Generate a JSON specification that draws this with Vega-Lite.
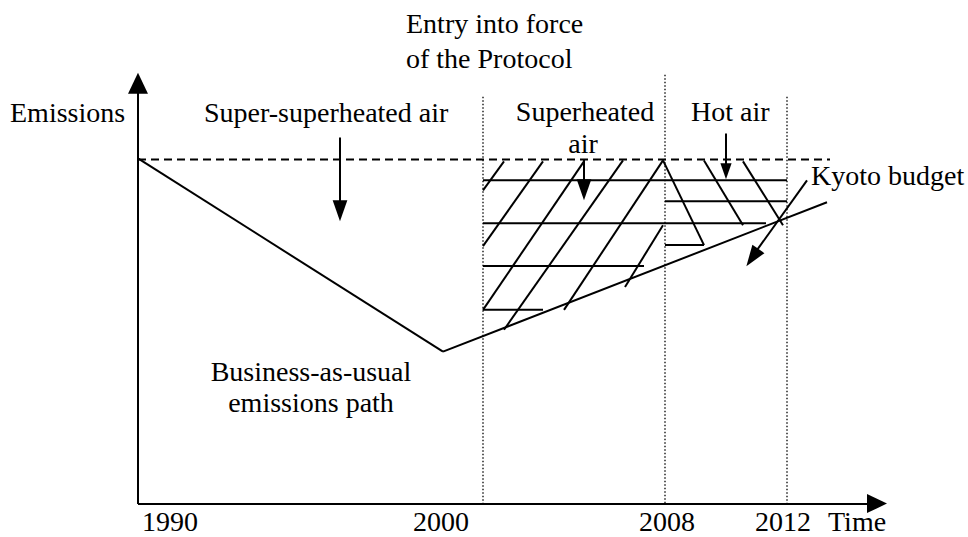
{
  "$schema": "https://vega.github.io/schema/vega-lite/v6.json",
  "width": 968,
  "height": 537,
  "padding": 0,
  "autosize": {"type": "fit", "contains": "padding"},
  "background": "white",
  "config": {"view": {"stroke": null}},
  "datasets": {
    "solid": [
      {"x": 138, "y": 88, "x2": 138, "y2": 506},
      {"x": 138, "y": 506, "x2": 870, "y2": 506},
      {"x": 138, "y": 159, "x2": 443, "y2": 353},
      {"x": 443, "y": 353, "x2": 827, "y2": 203},
      {"x": 483, "y": 181, "x2": 787, "y2": 181},
      {"x": 665, "y": 202, "x2": 787, "y2": 202},
      {"x": 483, "y": 224, "x2": 766, "y2": 224},
      {"x": 665, "y": 246, "x2": 704, "y2": 246},
      {"x": 483, "y": 267, "x2": 644, "y2": 267},
      {"x": 483, "y": 311, "x2": 543, "y2": 311},
      {"x": 483, "y": 191, "x2": 504, "y2": 162},
      {"x": 483, "y": 247, "x2": 543, "y2": 162},
      {"x": 483, "y": 311, "x2": 584, "y2": 162},
      {"x": 504, "y": 331, "x2": 623, "y2": 161},
      {"x": 564, "y": 311, "x2": 663, "y2": 161},
      {"x": 625, "y": 288, "x2": 663, "y2": 226},
      {"x": 663, "y": 161, "x2": 704, "y2": 246},
      {"x": 704, "y": 161, "x2": 743, "y2": 226},
      {"x": 743, "y": 162, "x2": 783, "y2": 226},
      {"x": 340, "y": 138, "x2": 340, "y2": 205},
      {"x": 584, "y": 160, "x2": 584, "y2": 190},
      {"x": 726, "y": 134, "x2": 726, "y2": 172},
      {"x": 807, "y": 181, "x2": 752, "y2": 258}
    ],
    "dashed": [
      {"x": 138, "y": 160, "x2": 830, "y2": 160}
    ],
    "dotted": [
      {"x": 483, "y": 97, "x2": 483, "y2": 506},
      {"x": 665, "y": 75, "x2": 665, "y2": 506},
      {"x": 787, "y": 97, "x2": 787, "y2": 506}
    ],
    "headsWide": [
      {"x": 138, "y": 83.5, "angle": 0, "size": 441},
      {"x": 877, "y": 505.5, "angle": 90, "size": 400}
    ],
    "headsNarrow": [
      {"x": 340, "y": 211.5, "angle": 180, "size": 441},
      {"x": 584, "y": 190.5, "angle": 180, "size": 441},
      {"x": 726, "y": 172, "angle": 180, "size": 256},
      {"x": 752.4, "y": 258.5, "angle": 215, "size": 441}
    ],
    "labelsLeft": [
      {"x": 10, "y": 122, "text": "Emissions"},
      {"x": 204, "y": 122, "text": "Super-superheated air"},
      {"x": 406, "y": 33, "text": "Entry into force"},
      {"x": 406, "y": 68, "text": "of the Protocol"},
      {"x": 691, "y": 121, "text": "Hot air"},
      {"x": 811, "y": 186, "text": "Kyoto budget"},
      {"x": 828, "y": 533, "text": "Time"}
    ],
    "labelsCenter": [
      {"x": 585, "y": 121, "text": "Superheated"},
      {"x": 583, "y": 154, "text": "air"},
      {"x": 311, "y": 382, "text": "Business-as-usual"},
      {"x": 311, "y": 414, "text": "emissions path"},
      {"x": 170, "y": 533, "text": "1990"},
      {"x": 441, "y": 533, "text": "2000"},
      {"x": 667, "y": 533, "text": "2008"},
      {"x": 783, "y": 533, "text": "2012"}
    ]
  },
  "resolve": {"scale": {"x": "shared", "y": "shared"}},
  "layer": [
    {
      "data": {"name": "dotted"},
      "mark": {"type": "rule", "color": "black", "strokeWidth": 1.3, "strokeDash": [1.5, 2]},
      "encoding": {
        "x": {"field": "x", "type": "quantitative", "scale": {"domain": [0, 968], "nice": false, "zero": false}, "axis": null},
        "y": {"field": "y", "type": "quantitative", "scale": {"domain": [0, 537], "nice": false, "zero": false, "reverse": true}, "axis": null},
        "x2": {"field": "x2"},
        "y2": {"field": "y2"}
      }
    },
    {
      "data": {"name": "dashed"},
      "mark": {"type": "rule", "color": "black", "strokeWidth": 2, "strokeDash": [8, 5]},
      "encoding": {
        "x": {"field": "x", "type": "quantitative", "axis": null},
        "y": {"field": "y", "type": "quantitative", "axis": null},
        "x2": {"field": "x2"},
        "y2": {"field": "y2"}
      }
    },
    {
      "data": {"name": "solid"},
      "mark": {"type": "rule", "color": "black", "strokeWidth": 2},
      "encoding": {
        "x": {"field": "x", "type": "quantitative", "axis": null},
        "y": {"field": "y", "type": "quantitative", "axis": null},
        "x2": {"field": "x2"},
        "y2": {"field": "y2"}
      }
    },
    {
      "data": {"name": "headsWide"},
      "mark": {"type": "point", "shape": "M0,-1L0.95,1L-0.95,1Z", "filled": true, "color": "black", "opacity": 1, "strokeWidth": 0},
      "encoding": {
        "x": {"field": "x", "type": "quantitative", "axis": null},
        "y": {"field": "y", "type": "quantitative", "axis": null},
        "angle": {"field": "angle", "type": "quantitative", "scale": null},
        "size": {"field": "size", "type": "quantitative", "scale": null}
      }
    },
    {
      "data": {"name": "headsNarrow"},
      "mark": {"type": "point", "shape": "M0,-1L0.7,1L-0.7,1Z", "filled": true, "color": "black", "opacity": 1, "strokeWidth": 0},
      "encoding": {
        "x": {"field": "x", "type": "quantitative", "axis": null},
        "y": {"field": "y", "type": "quantitative", "axis": null},
        "angle": {"field": "angle", "type": "quantitative", "scale": null},
        "size": {"field": "size", "type": "quantitative", "scale": null}
      }
    },
    {
      "data": {"name": "labelsLeft"},
      "mark": {"type": "text", "font": "Liberation Serif, Times New Roman, DejaVu Serif, serif", "fontSize": 28, "align": "left", "baseline": "alphabetic", "color": "black"},
      "encoding": {
        "x": {"field": "x", "type": "quantitative", "axis": null},
        "y": {"field": "y", "type": "quantitative", "axis": null},
        "text": {"field": "text"}
      }
    },
    {
      "data": {"name": "labelsCenter"},
      "mark": {"type": "text", "font": "Liberation Serif, Times New Roman, DejaVu Serif, serif", "fontSize": 28, "align": "center", "baseline": "alphabetic", "color": "black"},
      "encoding": {
        "x": {"field": "x", "type": "quantitative", "axis": null},
        "y": {"field": "y", "type": "quantitative", "axis": null},
        "text": {"field": "text"}
      }
    }
  ]
}
